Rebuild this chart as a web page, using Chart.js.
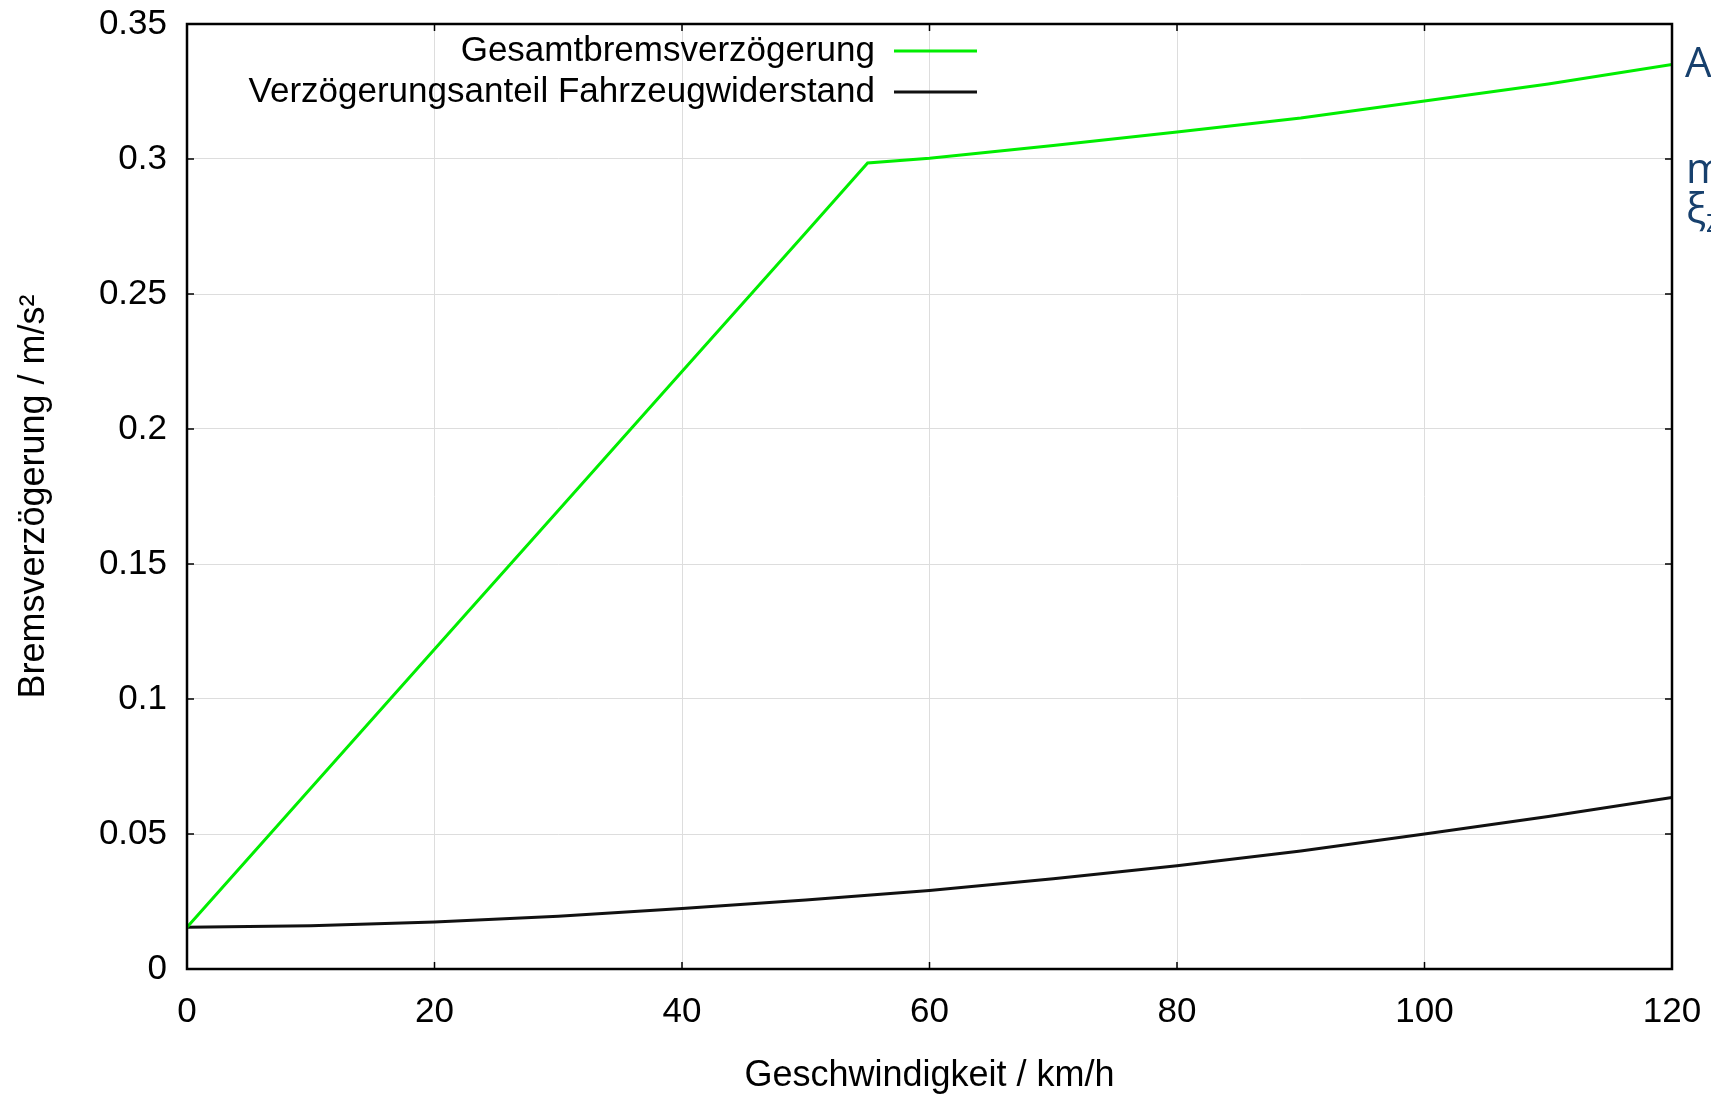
<!DOCTYPE html>
<html>
<head>
<meta charset="utf-8">
<script src="https://cdn.jsdelivr.net/npm/chart.js@4.4.1/dist/chart.umd.min.js"></script>
<style>
  html, body { margin: 0; padding: 0; background: #fff; overflow: hidden; }
  #wrap { position: relative; width: 1711px; height: 1096px; overflow: hidden; }
  #chart { position: absolute; left: 0; top: 0; }
  .side { position: absolute; color: #17406d; font-family: "Open Sans", "Noto Sans", sans-serif; font-size: 42px; white-space: nowrap; line-height: 1; }
</style>
</head>
<body>
<div id="wrap">
  <canvas id="chart" width="1711" height="1096"></canvas>
  <div class="side" style="left:1685px; top:40px;">A</div>
  <div class="side" style="left:1686px; top:146px;">m</div>
  <div class="side" style="left:1686px; top:186px;">ξ<sub style="font-size:26px">Z</sub></div>
</div>
<script>
// Geschwindigkeit in km/h
const speedKmh = [0, 10, 20, 30, 40, 50, 55, 60, 70, 80, 90, 100, 110, 120]
// Gesamtbremsverzögerung in m/s^2
const gesamtVerz = [0.0155, 0.0669, 0.1184, 0.1698, 0.2213, 0.2727, 0.2985, 0.3003, 0.3050, 0.3100, 0.3152, 0.3215, 0.3278, 0.3350]
// Verzögerungsanteil Fahrzeugwiderstand in m/s^2
const widerstandVerz = [0.0155, 0.0160, 0.0174, 0.0195, 0.0224, 0.0256, 0.0273, 0.0291, 0.0334, 0.0382, 0.0437, 0.0500, 0.0565, 0.0635]

const xTicks = [0, 20, 40, 60, 80, 100, 120]
const yTicks = [0, 0.05, 0.1, 0.15, 0.2, 0.25, 0.3, 0.35]

const FONT = '"Liberation Sans", Arial, sans-serif'

const toPoints = (ys) => speedKmh.map((x, i) => ({ x: x, y: ys[i] }))

// Frame, inward tick marks and the legend in the upper part
const framePlugin = {
  id: 'frame',
  afterDraw(chart) {
    const { ctx, chartArea: a, scales } = chart
    ctx.save()
    ctx.strokeStyle = '#000'
    ctx.lineWidth = 1.5
    const len = 7
    ctx.beginPath()
    xTicks.forEach(v => {
      const px = scales.x.getPixelForValue(v)
      ctx.moveTo(px, a.bottom); ctx.lineTo(px, a.bottom - len)
      ctx.moveTo(px, a.top); ctx.lineTo(px, a.top + len)
    })
    yTicks.forEach(v => {
      const py = scales.y.getPixelForValue(v)
      ctx.moveTo(a.left, py); ctx.lineTo(a.left + len, py)
      ctx.moveTo(a.right, py); ctx.lineTo(a.right - len, py)
    })
    ctx.stroke()
    ctx.lineWidth = 2.5
    ctx.strokeRect(a.left, a.top, a.right - a.left, a.bottom - a.top)

    // legend
    ctx.font = '35px ' + FONT
    ctx.textAlign = 'right'
    ctx.textBaseline = 'middle'
    chart.data.datasets.forEach((ds, i) => {
      const y = a.top + 27 + i * 41
      ctx.fillStyle = '#000'
      ctx.fillText(ds.label, a.left + 688, y)
      ctx.strokeStyle = ds.borderColor
      ctx.lineWidth = 3
      ctx.beginPath()
      ctx.moveTo(a.left + 707, y)
      ctx.lineTo(a.left + 790, y)
      ctx.stroke()
    })
    ctx.restore()
  }
}

new Chart(document.getElementById('chart'), {
  type: 'line',
  data: {
    datasets: [
      {
        label: 'Gesamtbremsverzögerung',
        data: toPoints(gesamtVerz),
        borderColor: '#00ee00',
        borderWidth: 3,
        pointRadius: 0,
        tension: 0
      },
      {
        label: 'Verzögerungsanteil Fahrzeugwiderstand',
        data: toPoints(widerstandVerz),
        borderColor: '#111111',
        borderWidth: 3,
        pointRadius: 0,
        tension: 0
      }
    ]
  },
  options: {
    responsive: false,
    animation: false,
    layout: { padding: { left: 0, right: 39, top: 24, bottom: 0 } },
    plugins: {
      legend: { display: false },
      tooltip: { enabled: false }
    },
    scales: {
      x: {
        type: 'linear',
        min: 0,
        max: 120,
        afterBuildTicks: (s) => { s.ticks = xTicks.map(v => ({ value: v })) },
        grid: { color: '#dddddd', lineWidth: 1, drawTicks: false },
        border: { display: false },
        ticks: { color: '#000', font: { family: FONT, size: 35 }, padding: 22, maxRotation: 0 },
        title: {
          display: true,
          text: 'Geschwindigkeit / km/h',
          color: '#000',
          font: { family: FONT, size: 36, lineHeight: 1.1 },
          padding: { top: 18, bottom: 0 }
        },
        afterFit: (s) => { s.height = 127; s.paddingLeft = 0; s.paddingRight = 0 }
      },
      y: {
        min: 0,
        max: 0.35,
        afterBuildTicks: (s) => { s.ticks = yTicks.map(v => ({ value: v })) },
        grid: { color: '#dddddd', lineWidth: 1, drawTicks: false },
        border: { display: false },
        ticks: {
          color: '#000',
          font: { family: FONT, size: 35 },
          padding: 20,
          callback: (v) => String(Math.round(v * 100) / 100)
        },
        title: {
          display: true,
          text: 'Bremsverzögerung / m/s²',
          color: '#000',
          font: { family: FONT, size: 36 },
          padding: { top: 12, bottom: 0 }
        },
        afterFit: (s) => { s.width = 187; s.paddingTop = 0; s.paddingBottom = 0 }
      }
    }
  },
  plugins: [framePlugin]
})
</script>
</body>
</html>
